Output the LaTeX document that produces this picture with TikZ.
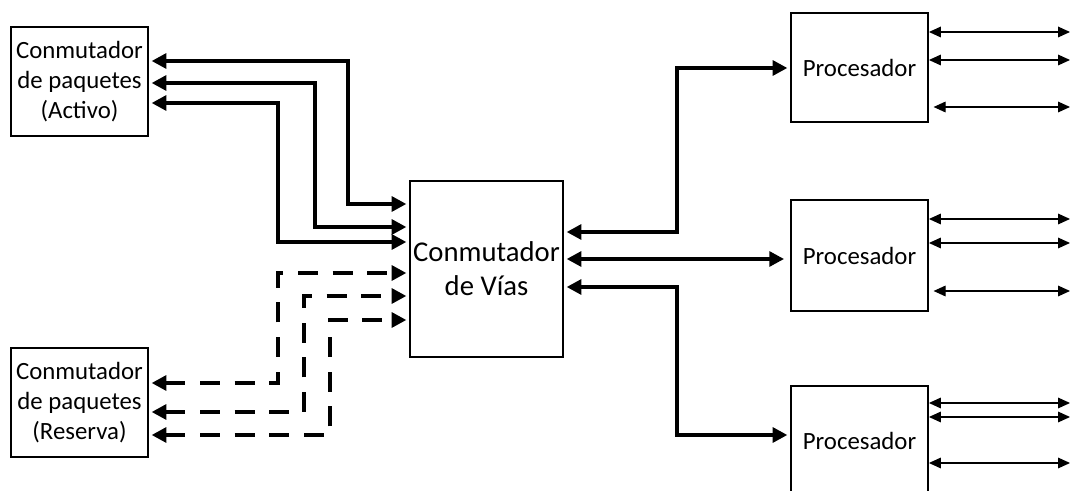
\documentclass[tikz,border=0pt]{standalone}
\usepackage{fontspec}
\setmainfont{Carlito}
\usetikzlibrary{arrows.meta}
\begin{document}
\begin{tikzpicture}[x=0.75pt,y=-0.75pt,
  box/.style={draw,line width=1.4pt,inner sep=0pt,align=center,
    font=\fontsize{18.6}{22.5}\selectfont},
  thk/.style={line width=3pt,{Triangle[length=11pt,width=11pt]}-{Triangle[length=11pt,width=11pt]},
    shorten <=2pt,shorten >=2pt},
  dsh/.style={thk,dash pattern=on 15pt off 11pt},
  thn/.style={line width=0.9pt,{Triangle[length=9pt,width=8pt]}-{Triangle[length=9pt,width=8pt]}}]
\useasboundingbox (0,0) rectangle (1071,491);
\clip (0,0) rectangle (1071,491);

\node[box,minimum width=102.75pt,minimum height=81.75pt] (act) at (79.5,81.5)
  {Conmutador\\de paquetes\\(Activo)};
\node[box,minimum width=102.75pt,minimum height=81.75pt] (res) at (79.5,402.5)
  {Conmutador\\de paquetes\\(Reserva)};
\node[box,minimum width=114.75pt,minimum height=132pt,
  font=\fontsize{21.5}{25.5}\selectfont] (cv) at (486.5,269) {Conmutador\\de Vías};
\node[box,minimum width=102.75pt,minimum height=81.75pt] (p1) at (859.5,67.5) {Procesador};
\node[box,minimum width=102.75pt,minimum height=83.25pt] (p2) at (859.5,255.5) {Procesador};
\node[box,minimum width=102.75pt,minimum height=81.75pt] (p3) at (859.5,440.5) {Procesador};

\coordinate (edge) at (1070,0);

% active packet switch links
\draw[thk] (act.east |- 0,61) -- (348,61) -- (348,204) -- (cv.west |- 0,204);
\draw[thk] (act.east |- 0,83) -- (315,83) -- (315,227) -- (cv.west |- 0,227);
\draw[thk] (act.east |- 0,103) -- (278,103) -- (278,242) -- (cv.west |- 0,242);

% reserve packet switch links
\draw[dsh] (res.east |- 0,383) -- (278,383) -- (278,273) -- (cv.west |- 0,273);
\draw[dsh] (res.east |- 0,412) -- (304,412) -- (304,296) -- (cv.west |- 0,296);
\draw[dsh] (res.east |- 0,435) -- (330,435) -- (330,320) -- (cv.west |- 0,320);

% processors
\draw[thk] (cv.east |- 0,232) -- (677,232) -- (677,68) -- (p1.west |- 0,68);
\draw[thk,shorten >=4.5pt] (cv.east |- 0,259) -- (p2.west |- 0,259);
\draw[thk] (cv.east |- 0,287) -- (677,287) -- (677,435) -- (p3.west |- 0,435);

% outputs
\draw[thn] (p1.east |- 0,32) -- (edge |- 0,32);
\draw[thn] (p1.east |- 0,60) -- (edge |- 0,60);
\draw[thn,shorten <=3.5pt] (p1.east |- 0,107) -- (edge |- 0,107);
\draw[thn] (p2.east |- 0,219) -- (edge |- 0,219);
\draw[thn] (p2.east |- 0,243) -- (edge |- 0,243);
\draw[thn,shorten <=3.5pt] (p2.east |- 0,291) -- (edge |- 0,291);
\draw[thn] (p3.east |- 0,403) -- (edge |- 0,403);
\draw[thn] (p3.east |- 0,417) -- (edge |- 0,417);
\draw[thn] (p3.east |- 0,463) -- (edge |- 0,463);
\end{tikzpicture}
\end{document}
